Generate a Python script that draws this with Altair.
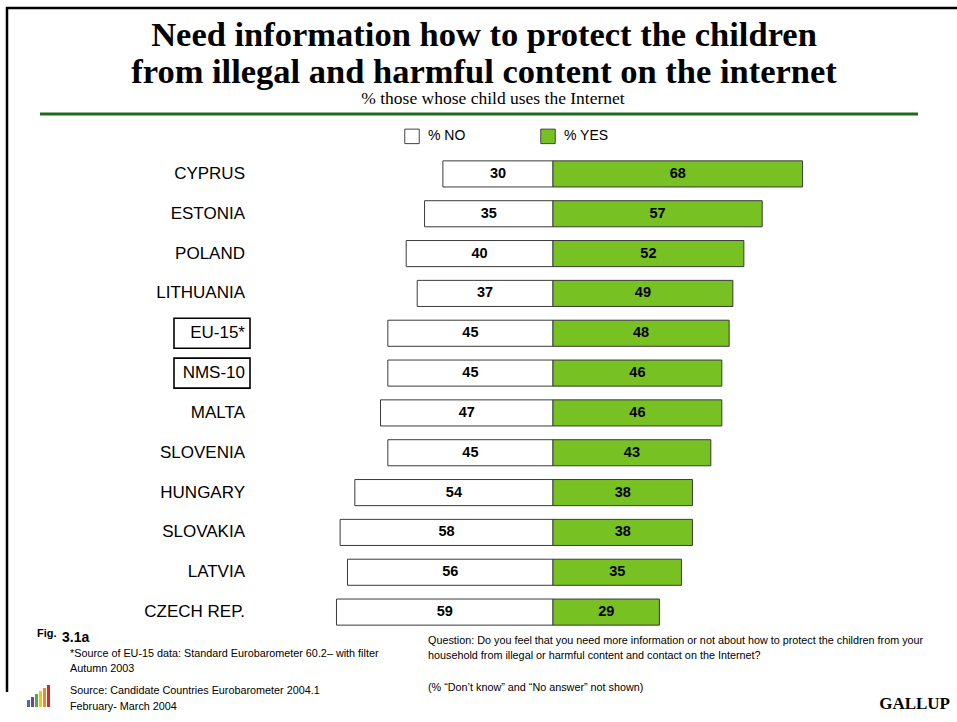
import altair as alt
import pandas as pd

# ---------------- data ----------------
countries = ["CYPRUS", "ESTONIA", "POLAND", "LITHUANIA", "EU-15*", "NMS-10",
             "MALTA", "SLOVENIA", "HUNGARY", "SLOVAKIA", "LATVIA", "CZECH REP."]
no_vals = [30, 35, 40, 37, 45, 45, 47, 45, 54, 58, 56, 59]
yes_vals = [68, 57, 52, 49, 48, 46, 46, 43, 38, 38, 35, 29]
boxed = ["EU-15*", "NMS-10"]
legend_labels = ["% NO", "% YES"]

title_lines = ["Need information how to protect the children",
               "from illegal and harmful content on the internet"]
subtitle = "% those  whose child uses the Internet"
fig_label = "Fig."
fig_num = "3.1a"
note_lines = ["*Source of EU-15 data: Standard Eurobarometer 60.2\u2013 with filter",
              "Autumn  2003"]
source_lines = ["Source: Candidate Countries Eurobarometer 2004.1",
                "February- March  2004"]
question_lines = ["Question: Do you feel that you need more information or not about how to protect the children from your",
                  "household from illegal or harmful content and contact on the Internet?"]
dk_note = "(% \u201cDon\u2019t know\u201d and \u201cNo answer\u201d not shown)"
brand = "GALLUP"
logo_colors = ["#3b6cc7", "#7d3c9e", "#4fae35", "#f0c419", "#ef8a1e", "#d8262c"]
logo_heights = [7, 10, 13, 16, 19, 22]

GREEN = "#78C122"
SANS = "Liberation Sans, Arial, sans-serif"
SERIF = "Liberation Serif, Times New Roman, serif"

rows = []
for c, n, y in zip(countries, no_vals, yes_vals):
    rows.append({"country": c, "answer": legend_labels[0], "start": -n, "end": 0, "value": n})
    rows.append({"country": c, "answer": legend_labels[1], "start": 0, "end": y, "value": y})
df = pd.DataFrame(rows)
df["mid"] = (df["start"] + df["end"]) / 2

W, H = 957, 722
x_scale = alt.Scale(domain=[-150.68, 110.08], nice=False, zero=False)
y_scale = alt.Scale(domain=countries, range=[154, 632], paddingInner=0.345, paddingOuter=0.1725)
Y = alt.Y("country:N", scale=y_scale, axis=None, sort=countries)

bars = alt.Chart(df).mark_bar(stroke="#3a3a3a", strokeWidth=1).encode(
    x=alt.X("start:Q", scale=x_scale, axis=None),
    x2="end:Q",
    y=Y,
    color=alt.Color("answer:N",
                    scale=alt.Scale(domain=legend_labels, range=["white", GREEN]),
                    legend=alt.Legend(orient="none", legendX=404, legendY=128, padding=0,
                                      direction="horizontal", title=None,
                                      symbolType="square", symbolSize=210,
                                      symbolStrokeColor="#444", symbolStrokeWidth=1,
                                      labelFont=SANS, labelFontSize=14, labelColor="black",
                                      labelOffset=8, columnPadding=72)),
)

values = alt.Chart(df).mark_text(font=SANS, fontSize=14.5, fontWeight="bold", color="black").encode(
    x=alt.X("mid:Q", scale=x_scale, axis=None),
    y=Y,
    text="value:Q",
)

labels = alt.Chart(pd.DataFrame({"country": countries})).mark_text(
    font=SANS, fontSize=17, align="right", color="black").encode(
    x=alt.value(245), y=Y, text="country:N")

boxes = alt.Chart(pd.DataFrame({"country": boxed})).mark_bar(
    fill="white", fillOpacity=0, stroke="black", strokeWidth=1.6, height=30).encode(
    x=alt.value(174), x2=alt.value(250), y=Y)

one = pd.DataFrame({"k": [0]})


def txt(t, x, y, size, font=SANS, weight="normal", align="left"):
    return alt.Chart(pd.DataFrame({"t": [t]})).mark_text(
        font=font, fontSize=size, fontWeight=weight, align=align,
        baseline="alphabetic", color="black").encode(
        x=alt.value(x), y=alt.value(y), text="t:N")


FOOT = 10.8
layers = [boxes, bars, values, labels]
layers.append(txt(title_lines[0], 484, 46, 34.5, SERIF, "bold", "center"))
layers.append(txt(title_lines[1], 484, 83, 34.5, SERIF, "bold", "center"))
layers.append(txt(subtitle, 493, 104, 17.5, SERIF, "normal", "center"))
layers.append(alt.Chart(one).mark_rule(color="#1d6a1d", strokeWidth=3).encode(
    x=alt.value(40), x2=alt.value(918), y=alt.value(114)))
# frame
layers.append(alt.Chart(one).mark_rule(color="black", strokeWidth=2.5).encode(
    x=alt.value(6), x2=alt.value(957), y=alt.value(8)))
layers.append(alt.Chart(one).mark_rule(color="black", strokeWidth=2.5).encode(
    x=alt.value(7), y=alt.value(7), y2=alt.value(692)))
# footer
layers.append(txt(fig_label, 37, 637, 11, SANS, "bold"))
layers.append(txt(fig_num, 62, 642, 14, SANS, "bold"))
layers.append(txt(note_lines[0], 70, 657, FOOT))
layers.append(txt(note_lines[1], 70, 672, FOOT))
layers.append(txt(source_lines[0], 70, 694, FOOT))
layers.append(txt(source_lines[1], 70, 710, FOOT))
layers.append(txt(question_lines[0], 428, 644, FOOT))
layers.append(txt(question_lines[1], 428, 659, FOOT))
layers.append(txt(dk_note, 428, 691, FOOT))
layers.append(txt(brand, 950, 709, 17, SERIF, "bold", "right"))
# logo
for i, (col, h) in enumerate(zip(logo_colors, logo_heights)):
    layers.append(alt.Chart(one).mark_rect(color=col).encode(
        x=alt.value(27 + i * 4), x2=alt.value(30 + i * 4),
        y=alt.value(707 - h), y2=alt.value(707)))

chart = alt.layer(*layers).properties(
    width=W, height=H, padding=0, autosize=alt.AutoSizeParams(type="none"),
    background="white",
).configure_view(stroke=None)

chart.save("out.html", embed_options={"renderer": "svg", "actions": False})
